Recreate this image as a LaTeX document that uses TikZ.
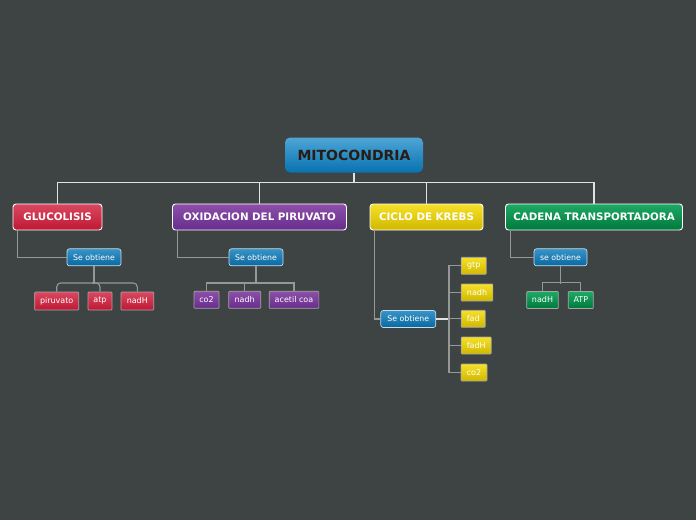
\documentclass[tikz,border=0pt]{standalone}
\usepackage{fontspec}
\setmainfont{DejaVu Sans}
\definecolor{bg}{RGB}{62,67,67}
\definecolor{rootT}{RGB}{78,166,214}
\definecolor{rootB}{RGB}{8,114,176}
\definecolor{redT}{RGB}{218,72,96}
\definecolor{redB}{RGB}{190,24,52}
\definecolor{purT}{RGB}{140,80,170}
\definecolor{purB}{RGB}{104,44,140}
\definecolor{yelT}{RGB}{245,225,40}
\definecolor{yelB}{RGB}{210,184,0}
\definecolor{grnT}{RGB}{30,170,100}
\definecolor{grnB}{RGB}{0,120,60}
\definecolor{seT}{RGB}{56,148,200}
\definecolor{seB}{RGB}{10,104,160}
\definecolor{linew}{RGB}{225,225,225}
\definecolor{lineg}{RGB}{150,152,152}
\definecolor{roottext}{RGB}{40,28,20}
\tikzset{
  rootbox/.style={draw=none,rounded corners=5pt,top color=rootT,bottom color=rootB,
    text=roottext,font=\fontsize{14}{16}\selectfont\bfseries,inner sep=0pt,minimum height=35pt},
  mainbox/.style={draw=white,line width=0.9pt,rounded corners=3pt,text=white,
    font=\fontsize{10.3}{12}\selectfont\bfseries,inner sep=0pt,minimum height=26pt},
  sebox/.style={draw=white!70!seT,line width=0.7pt,rounded corners=2.5pt,top color=seT,bottom color=seB,
    text=white,font=\fontsize{7.8}{9}\selectfont,inner sep=0pt,minimum height=17pt},
  leaf/.style={draw=white!65!black,line width=0.7pt,rounded corners=0.8pt,text=white,
    font=\fontsize{8}{9}\selectfont,inner sep=0pt,minimum height=17pt},
  redleaf/.style={leaf,top color=redT,bottom color=redB},
  purleaf/.style={leaf,top color=purT,bottom color=purB},
  yelleaf/.style={leaf,top color=yelT,bottom color=yelB},
  grnleaf/.style={leaf,top color=grnT,bottom color=grnB},
  wline/.style={draw=linew,line width=1.1pt},
  gline/.style={draw=lineg,line width=1.1pt}
}
\begin{document}
\begin{tikzpicture}[x=1pt,y=-1pt]
\useasboundingbox (0,0) rectangle (696,520);
\fill[bg] (0,0) rectangle (696,520);

% nodes
\node[rootbox,minimum width=138pt] (root) at (354,155) {MITOCONDRIA};
\node[mainbox,top color=redT,bottom color=redB,minimum width=89pt] (gluc) at (57.5,217) {GLUCOLISIS};
\node[mainbox,top color=purT,bottom color=purB,minimum width=174pt] (oxid) at (259.5,217) {OXIDACION DEL PIRUVATO};
\node[mainbox,top color=yelT,bottom color=yelB,minimum width=113pt] (krebs) at (426.5,217) {CICLO DE KREBS};
\node[mainbox,top color=grnT,bottom color=grnB,minimum width=177pt] (cadena) at (594,217) {CADENA TRANSPORTADORA};

\node[sebox,minimum width=54pt] (se1) at (94,257.3) {Se obtiene};
\node[sebox,minimum width=54pt] (se2) at (256,257.3) {Se obtiene};
\node[sebox,minimum width=55pt] (se3) at (408.3,319) {Se obtiene};
\node[sebox,minimum width=53pt] (se4) at (560.5,257.3) {se obtiene};

\node[redleaf,minimum width=44pt,minimum height=18pt] (piruvato) at (56.7,301) {piruvato};
\node[redleaf,minimum width=24pt,minimum height=18pt] (atp1) at (100,301) {atp};
\node[redleaf,minimum width=32.7pt,minimum height=18pt] (nadH1) at (137.3,301) {nadH};

\node[purleaf,minimum width=25pt] (co2a) at (206.5,299.8) {co2};
\node[purleaf,minimum width=32pt] (nadh2) at (244.7,299.8) {nadh};
\node[purleaf,minimum width=49.7pt] (acetil) at (294,299.8) {acetil coa};

\node[yelleaf,minimum width=25pt] (gtp) at (473.7,265.8) {gtp};
\node[yelleaf,minimum width=31.7pt] (nadh3) at (477,292.5) {nadh};
\node[yelleaf,minimum width=24pt] (fad) at (473.2,318.8) {fad};
\node[yelleaf,minimum width=30pt] (fadH) at (476.2,345.5) {fadH};
\node[yelleaf,minimum width=26pt] (co2b) at (474,372.5) {co2};

\node[grnleaf,minimum width=31.6pt] (nadH4) at (542.5,300) {nadH};
\node[grnleaf,minimum width=25pt] (ATP) at (580.8,300) {ATP};

% main connectors
\coordinate (bus) at (354,182.3);
\draw[wline] (root.south) -- (bus);
\draw[wline] (gluc.north) |- (bus) -| (cadena.north);
\draw[wline] (oxid.north) -- (oxid.north |- bus);
\draw[wline] (krebs.north) -- (krebs.north |- bus);

% to "se obtiene"
\draw[gline] ([xshift=5pt]gluc.south west) |- (se1.west);
\draw[gline] ([xshift=5pt]oxid.south west) |- (se2.west);
\draw[gline] ([xshift=4.7pt]krebs.south west) |- (se3.west);
\draw[gline] ([xshift=5pt]cadena.south west) |- (se4.west);

% glucolisis leaves
\draw[gline] (se1.south) -- ++(0,17.6);
\draw[gline,rounded corners=4pt] (piruvato.north) -- ++(0,-8.7) -| (nadH1.north);
\draw[gline,rounded corners=4pt] (atp1.north) -- ++(0,-8.7) -- ++(-8,0);

% oxidacion leaves
\draw[gline] (se2.south) -- ++(0,17.8);
\draw[gline] (co2a.north) -- ++(0,-8) -| (acetil.north);
\draw[gline] (nadh2.north) -- ++(0,-8);

% krebs leaves
\coordinate (kb) at (449,319);
\draw[wline] (se3.east) -- (kb);
\draw[gline] (gtp.west) -- (gtp.west -| kb) -- (co2b.west -| kb) -- (co2b.west);
\draw[gline] (nadh3.west) -- (nadh3.west -| kb);
\draw[gline] (fad.west) -- (fad.west -| kb);
\draw[gline] (fadH.west) -- (fadH.west -| kb);

% cadena leaves
\draw[gline] (se4.south) -- ++(0,17.6);
\draw[gline] (nadH4.north) -- ++(0,-8.4) -| (ATP.north);
\end{tikzpicture}
\end{document}
